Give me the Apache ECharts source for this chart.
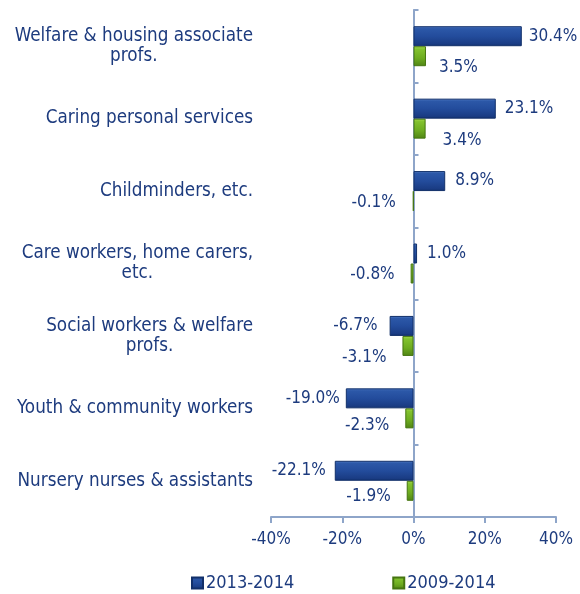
<!DOCTYPE html>
<html>
<head>
<meta charset="utf-8">
<script src="https://cdn.jsdelivr.net/npm/echarts@6/dist/echarts.min.js"></script>
<style>
html,body{margin:0;padding:0;background:#fff;}
#c{width:580px;height:594px;}
</style>
</head>
<body>
<div id="c"></div>
<script>
// ---- data ----
var categories = [
  'Welfare & housing associate\nprofs.',
  'Caring personal services',
  'Childminders, etc.',
  'Care workers, home carers,\netc.',
  'Social workers & welfare\nprofs.',
  'Youth & community workers',
  'Nursery nurses & assistants'
];
var seriesNames = ['2013-2014', '2009-2014'];
var values2013_2014 = [30.4, 23.1, 8.9, 1.0, -6.7, -19.0, -22.1];
var values2009_2014 = [3.5, 3.4, -0.1, -0.8, -3.1, -2.3, -1.9];
var xTicks = [-40, -20, 0, 20, 40];

// ---- style ----
var FONT = '"DejaVu Sans Condensed", "Liberation Sans", sans-serif';
var TXT = '#1d3b7e';
var AXIS = '#8ea5c9';
var blueFill = new echarts.graphic.LinearGradient(0, 0, 0, 1, [
  {offset: 0, color: '#5580c8'},
  {offset: 0.12, color: '#2c58a8'},
  {offset: 0.5, color: '#234c9c'},
  {offset: 0.88, color: '#1a3c84'},
  {offset: 1, color: '#12306c'}
]);
var greenFill = new echarts.graphic.LinearGradient(0, 0, 0, 1, [
  {offset: 0, color: '#a8dc4e'},
  {offset: 0.15, color: '#82c22e'},
  {offset: 0.6, color: '#6dab20'},
  {offset: 1, color: '#4f8414'}
]);
// label placement tweaks (style only)
var blueDist = [7, 9, 10, 10, 12, 6, 9];
var blueDy = [0, 0, 0, 0, 0, 0, 0];
var greenDist = [13, 17, 17, 16, 16, 16, 16];
var greenDy = [11, 12, 2, 1, 12, 7, 6];

function buildData(vals, dist, dy) {
  return vals.map(function (v, i) {
    return {
      value: v,
      label: {
        position: v >= 0 ? 'right' : 'left',
        distance: dist[i],
        offset: [0, dy[i]]
      }
    };
  });
}

function richCat(v) {
  return v.split('\n').map(function (l) { return '{c|' + l + '}'; }).join('\n');
}

var chart = echarts.init(document.getElementById('c'), null, {renderer: 'canvas'});
var labelCommon = {
  show: true,
  color: TXT,
  fontFamily: FONT,
  fontSize: 17,
  formatter: function (p) { return p.value.toFixed(1) + '%'; }
};
chart.setOption({
  animation: false,
  backgroundColor: '#ffffff',
  textStyle: {fontFamily: FONT},
  grid: {left: 271, right: 24, top: 10, bottom: 77, containLabel: false},
  legend: {
    data: seriesNames,
    left: 186,
    top: 569,
    itemWidth: 11,
    itemHeight: 11,
    itemGap: 98,
    icon: 'rect',
    textStyle: {color: TXT, fontSize: 18, fontFamily: FONT, padding: [0, 0, 0, -2]}
  },
  xAxis: {
    type: 'value',
    min: xTicks[0],
    max: xTicks[xTicks.length - 1],
    interval: 20,
    axisLine: {show: true, lineStyle: {color: AXIS, width: 2}},
    axisTick: {show: true, length: 6, lineStyle: {color: AXIS, width: 2}},
    splitLine: {show: false},
    axisLabel: {
      color: TXT, fontSize: 17, fontFamily: FONT, margin: 14,
      formatter: '{value}%'
    }
  },
  yAxis: [
    {
      type: 'category',
      data: categories,
      inverse: true,
      axisLine: {show: false, onZero: false},
      axisTick: {show: false},
      axisLabel: {
        color: TXT, fontSize: 18.7, fontFamily: FONT, margin: 18,
        lineHeight: 20,
        formatter: richCat,
        rich: {c: {align: 'center', color: TXT, fontSize: 18.7, fontFamily: FONT, lineHeight: 20}}
      }
    },
    {
      type: 'category',
      data: categories,
      inverse: true,
      axisLine: {show: true, onZero: true, lineStyle: {color: AXIS, width: 2}},
      axisTick: {show: true, length: 5, lineStyle: {color: AXIS, width: 2}},
      axisLabel: {show: false}
    }
  ],
  series: [
    {
      name: seriesNames[0],
      type: 'bar',
      yAxisIndex: 0,
      barWidth: 20,
      barGap: '0%',
      data: buildData(values2013_2014, blueDist, blueDy),
      itemStyle: {color: blueFill, borderColor: '#12306a', borderWidth: 1},
      label: labelCommon
    },
    {
      name: seriesNames[1],
      type: 'bar',
      yAxisIndex: 0,
      barWidth: 20,
      barGap: '0%',
      data: buildData(values2009_2014, greenDist, greenDy),
      itemStyle: {color: greenFill, borderColor: '#457510', borderWidth: 1},
      label: labelCommon
    }
  ]
});
</script>
</body>
</html>
